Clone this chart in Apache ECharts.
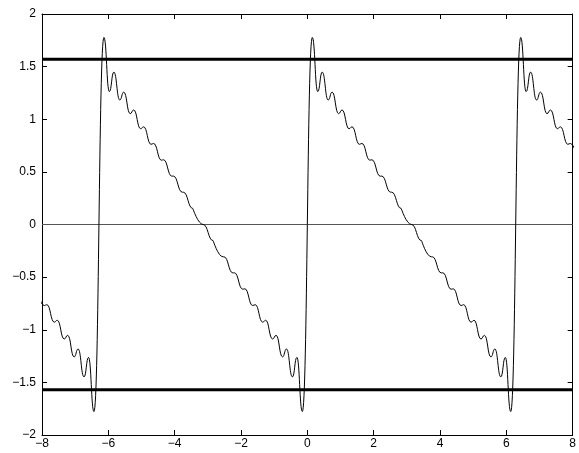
<!DOCTYPE html>
<html>
<head>
<meta charset="utf-8">
<script src="https://cdn.jsdelivr.net/npm/echarts@6/dist/echarts.min.js"></script>
<style>
html,body{margin:0;padding:0;background:#fff;}
#chart{width:579px;height:453px;}
</style>
</head>
<body>
<div id="chart"></div>
<script>
// Turning points of the curve (x, y)
const waveX = [
  -8.168,-7.929,-7.854,-7.629,-7.540,-7.330,-7.225,-7.031,-6.911,-6.732,-6.597,-6.433,
  -6.133,-5.969,-5.834,-5.655,-5.535,-5.341,-5.236,-5.026,-4.937,-4.712,-4.637,-4.398,-4.338,-4.084,-4.039,-3.770,-3.740,-3.456,-3.441,-3.141,
  -2.842,-2.827,-2.543,-2.513,-2.244,-2.199,-1.945,-1.885,-1.646,-1.571,-1.346,-1.257,-1.047,-0.942,-0.748,-0.628,-0.449,-0.314,-0.150,
  0.150,0.314,0.449,0.628,0.748,0.942,1.047,1.257,1.346,1.571,1.646,1.885,1.945,2.199,2.244,2.513,2.543,2.827,2.842,3.142,
  3.441,3.456,3.740,3.770,4.039,4.084,4.338,4.398,4.637,4.712,4.937,5.026,5.236,5.341,5.535,5.655,5.834,5.969,6.133,
  6.433,6.597,6.732,6.911,7.031,7.225,7.330,7.540,7.629,7.854,7.929,8.168
];
const waveY = [
  -0.611,-0.770,-0.762,-0.928,-0.910,-1.088,-1.053,-1.258,-1.183,-1.448,-1.263,-1.777,
  1.777,1.263,1.448,1.183,1.258,1.053,1.088,0.910,0.928,0.762,0.770,0.611,0.615,0.459,0.460,0.307,0.307,0.153,0.153,0.000,
  -0.153,-0.153,-0.307,-0.307,-0.460,-0.459,-0.615,-0.611,-0.770,-0.762,-0.928,-0.910,-1.088,-1.053,-1.258,-1.183,-1.448,-1.263,-1.777,
  1.777,1.263,1.448,1.183,1.258,1.053,1.088,0.910,0.928,0.762,0.770,0.611,0.615,0.459,0.460,0.307,0.307,0.153,0.153,0.000,
  -0.153,-0.153,-0.307,-0.307,-0.460,-0.459,-0.615,-0.611,-0.770,-0.762,-0.928,-0.910,-1.088,-1.053,-1.258,-1.183,-1.448,-1.263,-1.777,
  1.777,1.263,1.448,1.183,1.258,1.053,1.088,0.910,0.928,0.762,0.770,0.611
];
// Horizontal reference levels
const boundLevels = [1.5708, -1.5708];
const zeroLevel = [0];
// Axis ranges / ticks
const xRange = [-8, 8];
const xStep = 2;
const yRange = [-2, 2];
const yStep = 0.5;

const chart = echarts.init(document.getElementById('chart'), null, {renderer: 'canvas'});
const fmt = v => String(v).replace('-', '\u2212');
const axisCommon = {
  axisLine: {show: true, onZero: false, lineStyle: {color: '#000', width: 1}},
  axisTick: {show: true, inside: true, length: 5, lineStyle: {color: '#000', width: 1}},
  splitLine: {show: false},
  minorTick: {show: false}
};
const labelStyle = {color: '#000', fontFamily: 'Liberation Sans, Arial, sans-serif', fontSize: 12, formatter: fmt};

const series = [];
zeroLevel.forEach(l => series.push({
  type: 'line', data: [[xRange[0], l], [xRange[1], l]], showSymbol: false, silent: true,
  lineStyle: {color: '#555', width: 1}, z: 1
}));
boundLevels.forEach(l => series.push({
  type: 'line', data: [[xRange[0], l], [xRange[1], l]], showSymbol: false, silent: true,
  lineStyle: {color: '#000', width: 3}, z: 3
}));
series.push({
  type: 'line', data: waveX.map((x, i) => [x, waveY[i]]), showSymbol: false, silent: true,
  smooth: 0.5, smoothMonotone: 'x', clip: true, lineStyle: {color: '#000', width: 1}, z: 2
});

chart.setOption({
  animation: false,
  backgroundColor: '#fff',
  grid: {left: 42, right: 1, top: 14, bottom: 18, containLabel: false},
  xAxis: [
    Object.assign({type: 'value', position: 'bottom', min: xRange[0], max: xRange[1], interval: xStep,
      axisLabel: Object.assign({margin: 3}, labelStyle)}, axisCommon),
    Object.assign({type: 'value', position: 'top', min: xRange[0], max: xRange[1], interval: xStep,
      axisLabel: {show: false}}, axisCommon)
  ],
  yAxis: [
    Object.assign({type: 'value', position: 'left', min: yRange[0], max: yRange[1], interval: yStep,
      axisLabel: Object.assign({margin: 6}, labelStyle)}, axisCommon),
    Object.assign({type: 'value', position: 'right', min: yRange[0], max: yRange[1], interval: yStep,
      axisLabel: {show: false}}, axisCommon)
  ],
  series: series
});
</script>
</body>
</html>
